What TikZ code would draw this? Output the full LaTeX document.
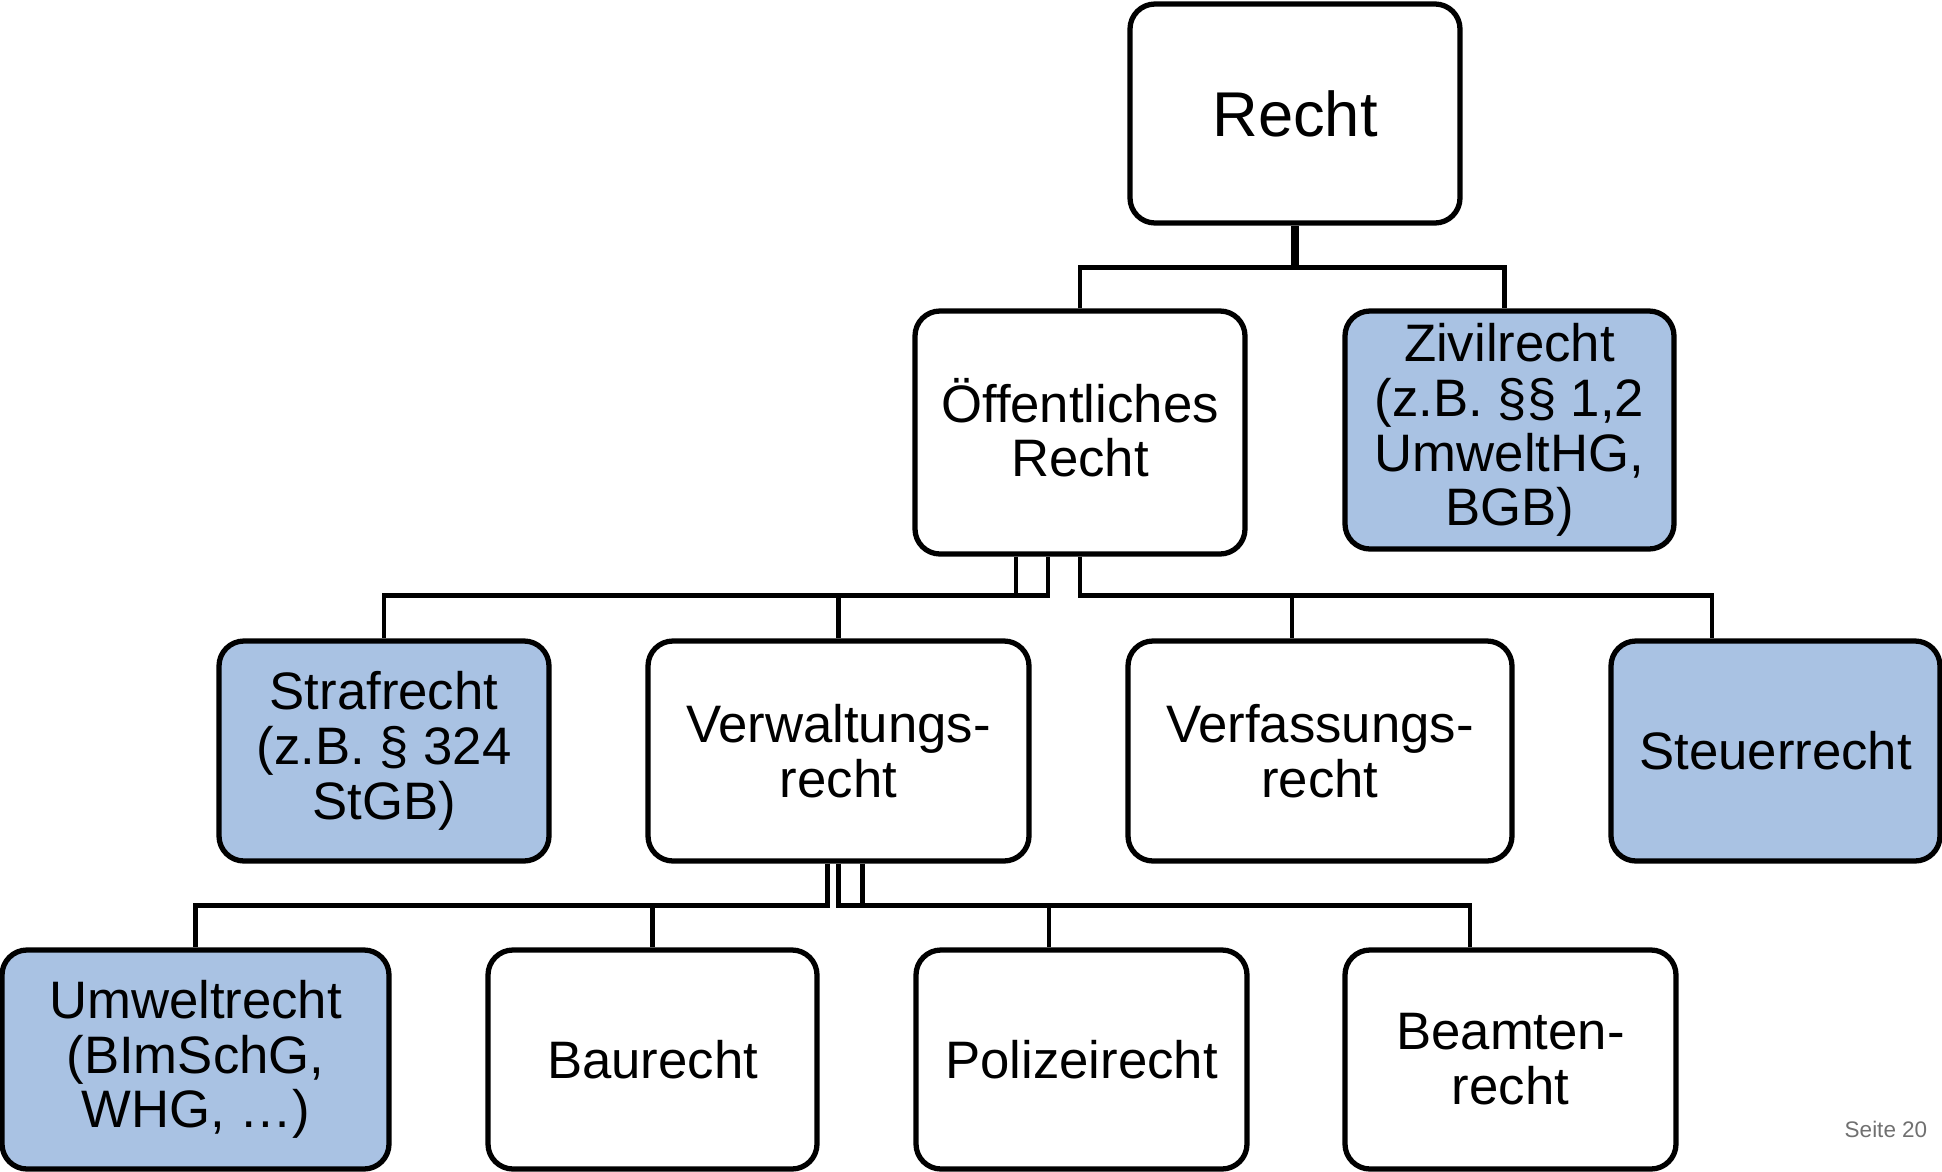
\documentclass[tikz,border=0pt]{standalone}
\usepackage{fontspec}
\setmainfont{Liberation Sans}
\definecolor{boxblue}{RGB}{169,194,227}
\definecolor{pagegray}{RGB}{112,112,112}
\begin{document}
\begin{tikzpicture}[
    box/.style = { draw, line width=1.5pt, rounded corners=0.25cm, align=center,
                   inner sep=0pt, minimum width=3.3cm, minimum height=2.2cm,
                   font=\fontsize{15}{15.6}\selectfont },
    filled/.style = { box, fill=boxblue },
    link/.style = { line width=1.3pt },
    trunk/.style = { line width=2.4pt }
    ]
\useasboundingbox (0,0) rectangle (19.42,-11.72);
\node[box, minimum height=2.19cm, font=\fontsize{18}{20}\selectfont] (recht) at (12.95,-1.135) {Recht};
\node[box, minimum height=2.43cm, text depth=0.1cm] (oeff) at (10.80,-4.325) {Öffentliches\\Recht};
\node[filled, minimum width=3.29cm, minimum height=2.38cm] (zivil) at (15.095,-4.30) {Zivilrecht\\(z.B. §§ 1,2\\UmweltHG,\\BGB)};
\node[filled] (straf) at (3.84,-7.51) {Strafrecht\\(z.B. § 324\\StGB)};
\node[box, minimum width=3.81cm] (verw) at (8.385,-7.51) {Verwaltungs-\\recht};
\node[box, minimum width=3.84cm] (verf) at (13.20,-7.51) {Verfassungs-\\recht};
\node[filled, minimum width=3.29cm] (steuer) at (17.755,-7.51) {Steuerrecht};
\node[filled, minimum width=3.87cm, minimum height=2.19cm] (umwelt) at (1.955,-10.595) {Umweltrecht\\(BImSchG,\\WHG, …)};
\node[box, minimum width=3.29cm, minimum height=2.19cm] (bau) at (6.525,-10.595) {Baurecht};
\node[box, minimum width=3.31cm, minimum height=2.19cm] (polizei) at (10.815,-10.595) {Polizeirecht};
\node[box, minimum width=3.31cm, minimum height=2.19cm] (beamten) at (15.105,-10.595) {Beamten-\\recht};
\node[text=pagegray, font=\fontsize{6.4}{7}\selectfont] (seite) at (18.86,-11.295) {Seite 20};
%
\coordinate (rechtbus) at ([yshift=-0.42cm]recht.south);
\coordinate (zivilT) at ([xshift=-0.05cm]zivil.north);
\draw[trunk] (recht.south) -- (rechtbus);
\draw[link] (oeff.north) |- (rechtbus) -| (zivilT);
%
\coordinate (oeffA) at ([xshift=-0.64cm]oeff.south);
\coordinate (oeffB) at ([xshift=-0.32cm]oeff.south);
\coordinate (verfT) at ([xshift=-0.28cm]verf.north);
\coordinate (steuerT) at ([xshift=-0.635cm]steuer.north);
\foreach \Source/\Target in {%
        oeffA/straf.north,
        oeffB/verw.north,
        oeff.south/verfT,
        oeff.south/steuerT%
    }
\draw[link] (\Source) -- ++(0,-0.39) -| (\Target);
%
\coordinate (verwA) at ([xshift=-0.11cm]verw.south);
\coordinate (verwB) at ([xshift=0.24cm]verw.south);
\coordinate (polizeiT) at ([xshift=-0.325cm]polizei.north);
\coordinate (beamtenT) at ([xshift=-0.405cm]beamten.north);
\foreach \Source/\Target in {%
        verwA/umwelt.north,
        verwA/bau.north,
        verw.south/polizeiT,
        verwB/beamtenT%
    }
\draw[link] (\Source) -- ++(0,-0.42) -| (\Target);
\end{tikzpicture}
\end{document}
